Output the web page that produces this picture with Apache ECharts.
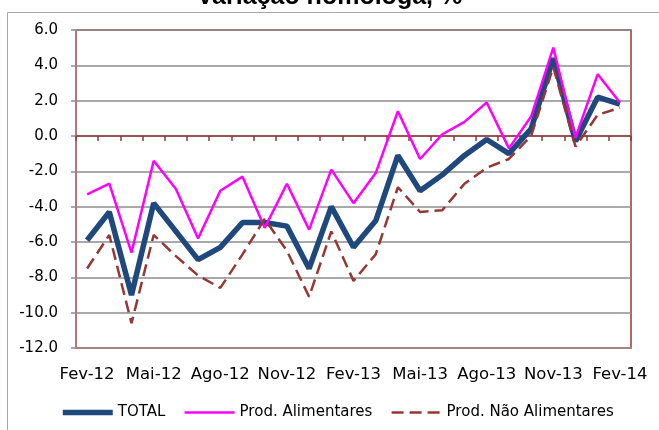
<!DOCTYPE html>
<html>
<head>
<meta charset="utf-8">
<title>Variação homóloga</title>
<script src="https://cdn.jsdelivr.net/npm/echarts@6/dist/echarts.min.js"></script>
<style>
    html, body { margin: 0; padding: 0; background: #fff; }
    #chart { width: 659px; height: 430px; }
</style>
</head>
<body>
<div id="chart"></div>
<script>
// meses (Fev-12 .. Fev-14)
var months = ['Fev-12', 'Mar-12', 'Abr-12', 'Mai-12', 'Jun-12', 'Jul-12', 'Ago-12', 'Set-12', 'Out-12',
    'Nov-12', 'Dez-12', 'Jan-13', 'Fev-13', 'Mar-13', 'Abr-13', 'Mai-13', 'Jun-13', 'Jul-13', 'Ago-13',
    'Set-13', 'Out-13', 'Nov-13', 'Dez-13', 'Jan-14', 'Fev-14'];

var seriesNames = ['TOTAL', 'Prod. Alimentares', 'Prod. Não Alimentares'];

var total = [-5.9, -4.3, -9.0, -3.8, -5.4, -7.0, -6.3, -4.9, -4.9, -5.1, -7.5, -4.0, -6.3,
    -4.8, -1.1, -3.1, -2.2, -1.1, -0.2, -1.0, 0.4, 4.4, -0.3, 2.2, 1.8];

var alimentares = [-3.3, -2.7, -6.6, -1.4, -3.0, -5.8, -3.1, -2.3, -5.2, -2.7, -5.3, -1.9, -3.8,
    -2.1, 1.4, -1.3, 0.1, 0.8, 1.9, -0.7, 1.1, 5.0, -0.1, 3.5, 1.9];

var naoAlimentares = [-7.5, -5.6, -10.6, -5.6, -6.8, -7.9, -8.6, -6.7, -4.7, -6.5, -9.1, -5.4, -8.2,
    -6.7, -2.9, -4.3, -4.2, -2.7, -1.8, -1.3, 0.0, 3.9, -0.6, 1.2, 1.6];

var yMin = -12, yMax = 6, yStep = 2;

var font = 'DejaVu Sans';
var brown = '#953735';

var myChart = echarts.init(document.getElementById('chart'));

var option = {
    animation: false,
    title: {
        text: 'Variação homóloga, %',
        left: 'center',
        top: -20,
        textStyle: {
            fontFamily: 'Liberation Sans',
            fontWeight: 'bold',
            fontSize: 25,
            color: '#000'
        }
    },
    // moldura cinzenta da área do gráfico
    graphic: [{
        type: 'rect',
        shape: { x: 7.5, y: 12.5, width: 700, height: 500 },
        style: { fill: null, stroke: '#a6a6a6', lineWidth: 1 },
        silent: true,
        z: -1
    }],
    legend: {
        data: seriesNames,
        left: 55,
        top: 400,
        itemWidth: 50,
        itemHeight: 14,
        itemGap: 18,
        itemStyle: { opacity: 0 },
        lineStyle: { width: 'inherit' },
        textStyle: { fontFamily: font, fontSize: 15, color: '#000' }
    },
    grid: {
        left: 76,
        right: 28,
        top: 30,
        bottom: 82,
        show: true,
        borderColor: brown,
        borderWidth: 1.5
    },
    xAxis: [
        {
            type: 'category',
            data: months,
            boundaryGap: true,
            position: 'bottom',
            axisLine: { onZero: false, lineStyle: { color: '#b08080', width: 1.5 } },
            axisTick: { show: false },
            axisLabel: {
                interval: 2,
                margin: 18,
                fontFamily: font,
                fontSize: 16.5,
                color: '#000'
            },
            splitLine: { show: false }
        },
        {
            // eixo no zero com marcas
            type: 'category',
            data: months,
            boundaryGap: true,
            position: 'bottom',
            axisLine: { onZero: true, lineStyle: { color: brown, width: 1.5 } },
            axisTick: { show: true, interval: 0, length: 5, lineStyle: { color: brown, width: 1.5 } },
            axisLabel: { show: false },
            splitLine: { show: false }
        }
    ],
    yAxis: {
        type: 'value',
        min: yMin,
        max: yMax,
        interval: yStep,
        axisLine: { show: true, lineStyle: { color: '#b08080', width: 1.5 } },
        axisTick: { show: true, length: 5, lineStyle: { color: '#8c8c8c', width: 1.5 } },
        axisLabel: {
            margin: 18,
            fontFamily: font,
            fontSize: 15,
            color: '#000',
            formatter: function (v) { return v.toFixed(1); }
        },
        splitLine: { lineStyle: { color: '#8c8c8c', width: 1.5 } }
    },
    series: [
        {
            name: seriesNames[0],
            type: 'line',
            data: total,
            symbol: 'none',
            lineStyle: { color: '#1f497d', width: 5.5 },
            itemStyle: { color: '#1f497d' },
            z: 2
        },
        {
            name: seriesNames[1],
            type: 'line',
            data: alimentares,
            symbol: 'none',
            lineStyle: { color: '#ff00ff', width: 2.5 },
            itemStyle: { color: '#ff00ff' },
            z: 3
        },
        {
            name: seriesNames[2],
            type: 'line',
            data: naoAlimentares,
            symbol: 'none',
            lineStyle: { color: brown, width: 2.5, type: [12, 6] },
            itemStyle: { color: brown },
            z: 4
        }
    ]
};

myChart.setOption(option);
</script>
</body>
</html>
